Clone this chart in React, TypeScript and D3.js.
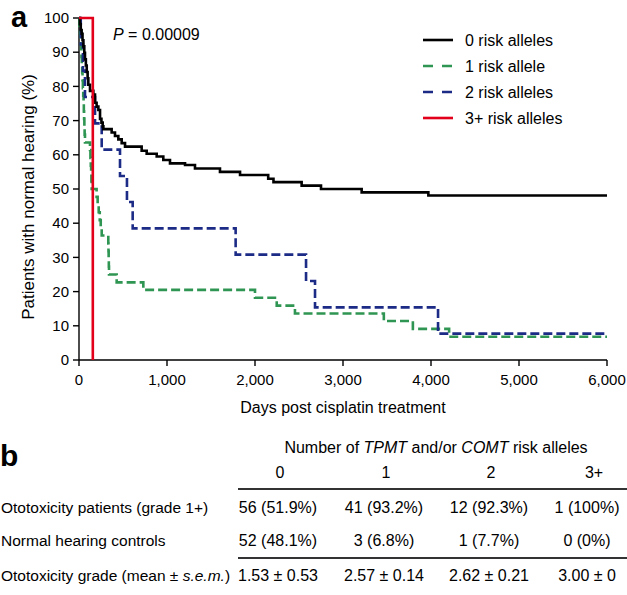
import React from 'react';
import { scaleLinear, line, curveStepAfter } from 'd3';

// Kaplan-Meier steps: [day, % with normal hearing]
const zeroRisk: [number, number][] = [
  [0, 100], [10, 98.2], [20, 96.5], [30, 95.4], [40, 93.5], [50, 91.7], [60, 89.8], [68, 87.9],
  [78, 86.1], [88, 84.2], [98, 82.4], [106, 80.5], [125, 78.7], [163, 77.6], [182, 75.2],
  [200, 74.1], [220, 73.1], [239, 70.5], [255, 69.4], [269, 68.3], [277, 67.5], [371, 66.5],
  [409, 65.5], [447, 64.5], [485, 63.4], [523, 62.4], [712, 61.2], [769, 60.3], [883, 59.5],
  [958, 58.5], [1034, 57.5], [1205, 57.0], [1318, 56.0], [1602, 55.0], [1830, 54.1],
  [2150, 53.0], [2210, 52.0], [2530, 51.0], [2750, 50.0], [3212, 49.0], [3970, 48.1], [6000, 48.1],
];
const oneRisk: [number, number][] = [
  [0, 100], [6, 97.7], [12, 95.5], [18, 93.2], [24, 90.9], [28, 88.6], [32, 86.4], [36, 84.1],
  [40, 81.8], [44, 79.5], [48, 77.3], [52, 75.0], [55, 72.7], [58, 70.5], [61, 68.2], [64, 65.9],
  [68, 63.6], [125, 61.4], [130, 59.1], [134, 56.8], [138, 54.5], [141, 52.3], [144, 50.0],
  [200, 47.7], [212, 45.5], [224, 43.2], [236, 40.9], [247, 38.6], [258, 36.4], [333, 34.1],
  [335, 31.8], [337, 29.5], [339, 27.3], [341, 25.0], [428, 22.7], [731, 20.5], [2000, 18.2],
  [2247, 15.9], [2454, 13.6], [3464, 11.4], [3794, 9.1], [4206, 6.8], [6000, 6.8],
];
const twoRisk: [number, number][] = [
  [0, 100], [20, 92.3], [45, 84.6], [68, 76.9], [182, 69.2], [258, 61.5], [466, 53.8],
  [545, 46.2], [610, 38.5], [1780, 30.8], [2580, 23.1], [2682, 15.4], [4080, 7.7], [6000, 7.7],
];
const threeRisk: [number, number][] = [[0, 100], [157, 0]];

const xTicks = [0, 1000, 2000, 3000, 4000, 5000, 6000];
const yTicks = [0, 10, 20, 30, 40, 50, 60, 70, 80, 90, 100];

const legendLabels = ['0 risk alleles', '1 risk allele', '2 risk alleles', '3+ risk alleles'];
const colors = ['#000000', '#2f9552', '#1c2b85', '#e2001a'];

// table b
const tableCols = ['0', '1', '2', '3+'];
const patientsRow = ['56 (51.9%)', '41 (93.2%)', '12 (92.3%)', '1 (100%)'];
const controlsRow = ['52 (48.1%)', '3 (6.8%)', '1 (7.7%)', '0 (0%)'];
const gradeRow = ['1.53 ± 0.53', '2.57 ± 0.14', '2.62 ± 0.21', '3.00 ± 0'];

const font = '"Liberation Sans", Arial, Helvetica, sans-serif';

export default function App() {
  const x = scaleLinear().domain([0, 6000]).range([79, 607]);
  const y = scaleLinear().domain([0, 100]).range([360, 18]);
  const km = line<[number, number]>()
    .x(d => x(d[0]))
    .y(d => y(d[1]))
    .curve(curveStepAfter);

  const series = [
    { data: oneRisk, color: colors[1], dash: '9,4' },
    { data: twoRisk, color: colors[2], dash: '9,4' },
    { data: zeroRisk, color: colors[0], dash: undefined },
    { data: threeRisk, color: colors[3], dash: undefined },
  ];

  const colX = [278, 384, 489, 587];

  return (
    <svg width={627} height={595} style={{ position: 'absolute', left: 0, top: 0, background: '#fff' }}
      fontFamily={font}>
      <text x={11} y={27} fontSize={29} fontWeight="bold">a</text>

      {/* y axis */}
      <line x1={x(0)} x2={x(0)} y1={y(0)} y2={y(100)} stroke="#000" strokeWidth={1.4} />
      {yTicks.map(t => (
        <g key={t}>
          <line x1={x(0) - 6} x2={x(0)} y1={y(t)} y2={y(t)} stroke="#000" strokeWidth={1.4} />
          <text x={x(0) - 10} y={y(t)} dy="0.35em" textAnchor="end" fontSize={15}>{t}</text>
        </g>
      ))}
      {/* x axis */}
      <line x1={x(0)} x2={x(6000)} y1={y(0)} y2={y(0)} stroke="#000" strokeWidth={1.4} />
      {xTicks.map(t => (
        <g key={t}>
          <line x1={x(t)} x2={x(t)} y1={y(0)} y2={y(0) + 6} stroke="#000" strokeWidth={1.4} />
          <text x={x(t)} y={385} textAnchor="middle" fontSize={15}>{t.toLocaleString('en-US')}</text>
        </g>
      ))}
      <text x={343} y={413} textAnchor="middle" fontSize={16}>Days post cisplatin treatment</text>
      <text transform="translate(34,197) rotate(-90)" textAnchor="middle" fontSize={17}>
        Patients with normal hearing (%)
      </text>

      {series.map((s, i) => (
        <path key={i} d={km(s.data) || ''} fill="none" stroke={s.color}
          strokeWidth={2.6} strokeDasharray={s.dash} />
      ))}

      <text x={113} y={40} fontSize={16}>
        <tspan fontStyle="italic">P</tspan> = 0.00009
      </text>

      {legendLabels.map((l, i) => (
        <g key={l} transform={`translate(0,${40 + i * 26})`}>
          <line x1={423} x2={453} y1={0} y2={0} stroke={colors[i]} strokeWidth={2.6}
            strokeDasharray={i === 1 || i === 2 ? '10,9' : undefined} />
          <text x={465} y={0} dy="0.35em" fontSize={16}>{l}</text>
        </g>
      ))}

      {/* panel b */}
      <text x={0} y={466} fontSize={30} fontWeight="bold">b</text>
      <text x={436} y={453} textAnchor="middle" fontSize={16}>
        Number of <tspan fontStyle="italic">TPMT</tspan> and/or <tspan fontStyle="italic">COMT</tspan> risk alleles
      </text>
      {tableCols.map((c, i) => (
        <text key={c} x={colX[i] + (i === 3 ? 7 : 2)} y={478} textAnchor="middle" fontSize={16}>{c}</text>
      ))}
      <line x1={238} x2={627} y1={489} y2={489} stroke="#333" strokeWidth={1.8} />
      <line x1={238} x2={627} y1={558} y2={558} stroke="#333" strokeWidth={1.8} />

      <text x={1} y={513} fontSize={15.5}>Ototoxicity patients (grade 1+)</text>
      <text x={1} y={546} fontSize={15.5}>Normal hearing controls</text>
      <text x={1} y={581} fontSize={15.5}>
        Ototoxicity grade (mean ± <tspan fontStyle="italic">s.e.m.</tspan>)
      </text>
      {patientsRow.map((v, i) => (
        <text key={'p' + i} x={colX[i]} y={513} textAnchor="middle" fontSize={16}>{v}</text>
      ))}
      {controlsRow.map((v, i) => (
        <text key={'c' + i} x={colX[i]} y={546} textAnchor="middle" fontSize={16}>{v}</text>
      ))}
      {gradeRow.map((v, i) => (
        <text key={'g' + i} x={colX[i]} y={581} textAnchor="middle" fontSize={16}>{v}</text>
      ))}
    </svg>
  );
}
